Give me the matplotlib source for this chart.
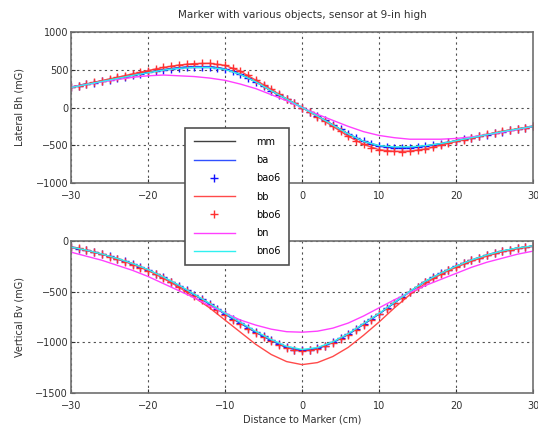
import numpy as np
import matplotlib
matplotlib.use("Agg")
from matplotlib import pyplot as plt

# !data - lines every 2 cm, markers every 1 cm
x_line = list(range(-30, 31, 2))
x_mark = list(range(-30, 31, 1))

# lateral Bh (mG)
bh_mm = [270, 310, 350, 390, 430, 465, 500, 525, 540, 540, 510, 440, 340, 220, 110, 0,
         -110, -230, -350, -450, -510, -530, -530, -510, -480, -440, -400, -360, -320, -285, -250]
bh_ba = [270, 310, 350, 390, 430, 465, 500, 528, 542, 542, 512, 442, 342, 222, 112, 0,
         -112, -232, -352, -452, -512, -532, -532, -512, -482, -442, -402, -362, -322, -287, -250]
bh_bb = [270, 312, 356, 400, 445, 490, 530, 562, 582, 585, 558, 480, 362, 240, 115, 0,
         -120, -250, -380, -490, -558, -582, -578, -550, -500, -450, -400, -356, -315, -280, -250]
bh_bn = [270, 305, 340, 370, 400, 420, 430, 420, 410, 390, 360, 310, 250, 170, 90, 0,
         -90, -170, -250, -320, -370, -400, -420, -420, -420, -410, -390, -360, -330, -290, -250]
bh_bno6 = [265, 305, 345, 385, 425, 460, 495, 518, 530, 530, 505, 438, 340, 222, 112, 0,
           -112, -232, -350, -448, -505, -522, -522, -505, -478, -440, -400, -360, -320, -285, -250]
bh_bao6 = [270, 290, 310, 330, 350, 370, 390, 410, 430, 448, 465, 483, 500, 513, 525, 535,
           540, 542, 540, 528, 510, 480, 440, 395, 340, 280, 220, 165, 110, 55, 0,
           -55, -110, -170, -230, -290, -350, -405, -450, -485, -510, -525, -530, -532, -530, -522,
           -510, -495, -480, -460, -440, -420, -400, -380, -360, -340, -320, -302, -285, -268, -250]
bh_bbo6 = [270, 290, 312, 334, 356, 378, 400, 422, 445, 468, 490, 510, 530, 548, 562, 575,
           582, 586, 585, 575, 558, 525, 480, 425, 362, 300, 240, 175, 115, 55, 0,
           -60, -120, -185, -250, -315, -380, -440, -490, -530, -558, -575, -582, -583, -578, -565,
           -550, -525, -500, -475, -450, -425, -400, -378, -356, -335, -315, -298, -280, -265, -250]

# vertical Bv (mG)
bv_mm = [-60, -90, -130, -175, -225, -285, -360, -440, -530, -620, -720, -810, -900, -980, -1050, -1080,
         -1060, -1000, -920, -820, -720, -610, -500, -400, -320, -250, -190, -140, -100, -70, -50]
bv_ba = [-60, -90, -130, -175, -225, -285, -360, -440, -530, -622, -722, -812, -902, -982, -1052, -1082,
         -1062, -1002, -922, -822, -720, -610, -500, -400, -320, -250, -190, -140, -100, -70, -50]
bv_bb = [-60, -90, -130, -175, -230, -290, -370, -455, -555, -660, -780, -900, -1020, -1120, -1190, -1220,
         -1200, -1140, -1050, -930, -800, -660, -530, -420, -330, -260, -200, -150, -105, -75, -50]
bv_bn = [-110, -150, -190, -240, -290, -350, -420, -490, -560, -640, -710, -780, -830, -870, -895, -900,
         -890, -860, -810, -740, -660, -580, -510, -440, -380, -320, -260, -210, -170, -130, -100]
bv_bno6 = [-60, -90, -128, -172, -222, -282, -355, -435, -525, -615, -712, -802, -892, -972, -1040, -1070,
           -1052, -995, -915, -815, -715, -605, -497, -398, -318, -248, -188, -138, -98, -68, -48]
bv_bao6 = [-60, -75, -90, -110, -130, -152, -175, -200, -225, -255, -285, -322, -360, -400, -440, -485,
           -530, -575, -620, -670, -720, -765, -810, -855, -900, -940, -980, -1018, -1050, -1072, -1080,
           -1075, -1060, -1035, -1000, -962, -920, -870, -820, -770, -720, -665, -610, -555, -500, -450,
           -400, -360, -320, -285, -250, -220, -190, -165, -140, -120, -100, -85, -70, -60, -50]
bv_bbo6 = [-55, -72, -92, -112, -132, -155, -180, -205, -232, -262, -292, -330, -368, -408, -450, -495,
           -540, -585, -632, -680, -730, -775, -820, -865, -910, -950, -990, -1025, -1055, -1075, -1082,
           -1078, -1062, -1038, -1005, -968, -925, -876, -826, -775, -724, -670, -615, -560, -505, -455,
           -405, -362, -322, -287, -252, -222, -192, -166, -142, -121, -101, -86, -72, -61, -52]

labels = ['mm', 'ba', 'bao6', 'bb', 'bbo6', 'bn', 'bno6']

plt.rcParams['font.size'] = 7
plt.rcParams['xtick.direction'] = 'in'
plt.rcParams['ytick.direction'] = 'in'

fig = plt.figure(figsize=(5.38, 4.37), dpi=100)
W, H = 538.0, 437.0
ax1 = fig.add_axes([71 / W, 1 - 183 / H, 462 / W, 151 / H])
ax2 = fig.add_axes([71 / W, 1 - 393 / H, 462 / W, 152 / H])


def draw(ax, mm, ba, bao6, bb, bbo6, bn, bno6):
    h = []
    h += ax.plot(x_line, mm, color='#404040', lw=1)
    h += ax.plot(x_line, ba, color='#3050ff', lw=1)
    h += ax.plot(x_mark, bao6, ls='none', marker='+', color='#1010ff', ms=6, mew=1)
    h += ax.plot(x_line, bb, color='#ff4a4a', lw=1)
    h += ax.plot(x_mark, bbo6, ls='none', marker='+', color='#ff3030', ms=6, mew=1)
    h += ax.plot(x_line, bn, color='#ff40ff', lw=1)
    h += ax.plot(x_line, bno6, color='#30f0f0', lw=1)
    ax.set_xlim(-30, 30)
    ax.set_xticks([-30, -20, -10, 0, 10, 20, 30])
    ax.grid(True, ls=(0, (2, 3)), color='#505050', lw=0.8)
    for s in ax.spines.values():
        s.set_color('#707070')
        s.set_linewidth(1.2)
    ax.tick_params(colors='#303030', length=3, pad=2)
    ax.tick_params(axis='x', pad=6)
    return h


handles = draw(ax1, bh_mm, bh_ba, bh_bao6, bh_bb, bh_bbo6, bh_bn, bh_bno6)
ax1.set_ylim(-1000, 1000)
ax1.set_yticks([-1000, -500, 0, 500, 1000])
ax1.set_ylabel('Lateral Bh (mG)', color='#303030', labelpad=8)
ax1.set_title('Marker with various objects, sensor at 9-in high', color='#303030',
              fontsize=7.5, pad=10)

draw(ax2, bv_mm, bv_ba, bv_bao6, bv_bb, bv_bbo6, bv_bn, bv_bno6)
ax2.set_ylim(-1500, 0)
ax2.set_yticks([-1500, -1000, -500, 0])
ax2.set_ylabel('Vertical Bv (mG)', color='#303030', labelpad=8)
ax2.set_xlabel('Distance to Marker (cm)', color='#303030', labelpad=2)

leg = fig.legend(handles, labels, loc='upper left', bbox_to_anchor=(185 / W, 1 - 128 / H),
                 fancybox=False, framealpha=1, edgecolor='#505050', handlelength=4.2,
                 handletextpad=2.2, labelspacing=0.85, borderpad=0.9, borderaxespad=0,
                 fontsize=7)
leg.get_frame().set_linewidth(1.2)

plt.savefig('out.png', dpi=100)
